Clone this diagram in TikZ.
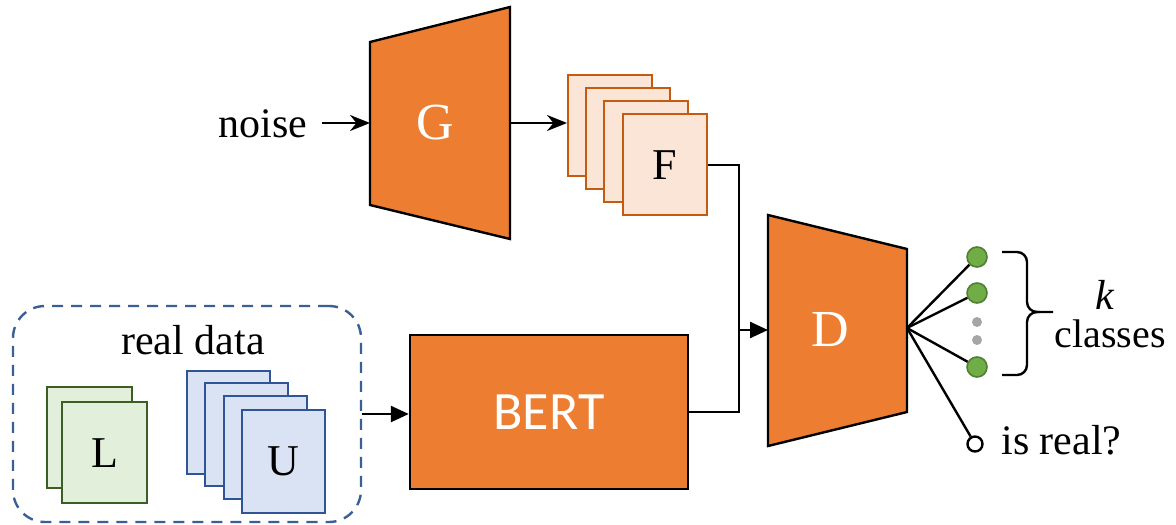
\documentclass[tikz,border=0pt]{standalone}
\usepackage{fontspec}
\setmainfont{Liberation Serif}
\newfontfamily\bertfont{Carlito}
\usetikzlibrary{arrows.meta}
\definecolor{orng}{HTML}{ED7D31}
\definecolor{orngdark}{HTML}{C55A11}
\definecolor{orngl}{HTML}{FBE5D6}
\definecolor{grnl}{HTML}{E2EFDA}
\definecolor{grnd}{HTML}{3B5E25}
\definecolor{bluel}{HTML}{DAE3F3}
\definecolor{blued}{HTML}{2F5597}
\definecolor{dashblue}{HTML}{3A5F95}
\definecolor{grnc}{HTML}{70AD47}
\definecolor{grncd}{HTML}{507E32}
\definecolor{dotgray}{HTML}{A6A6A6}
\tikzset{
  lbl/.style={font=\fontsize{21}{25}\selectfont, inner sep=0pt},
  trap/.style={draw=black, line width=1.2pt, fill=orng, line join=miter},
  trapname/.style={text=white, font=\fontsize{26}{30}\selectfont, inner sep=0pt},
  fbox/.style={draw=orngdark, fill=orngl, line width=1.2pt, minimum width=42pt, minimum height=50.5pt, inner sep=0pt, anchor=north west, font=\fontsize{22}{26}\selectfont},
  lbox/.style={draw=grnd, fill=grnl, line width=1.2pt, minimum width=42.5pt, minimum height=50.5pt, inner sep=0pt, anchor=north west, font=\fontsize{22}{26}\selectfont},
  ubox/.style={draw=blued, fill=bluel, line width=1.2pt, minimum width=41.5pt, minimum height=51.5pt, inner sep=0pt, anchor=north west, font=\fontsize{22}{26}\selectfont},
  conn/.style={draw=black, line width=1.2pt},
  arr/.style={conn, -{Stealth[length=10pt, width=8pt]}},
  tarr/.style={conn, -{Triangle[length=9pt, width=8pt]}},
  gdot/.style={circle, draw=grncd, fill=grnc, line width=0.8pt, minimum size=10pt, inner sep=0pt},
  graydot/.style={circle, fill=dotgray, minimum size=5pt, inner sep=0pt},
  odot/.style={circle, draw=black, fill=white, line width=1.2pt, minimum size=7.5pt, inner sep=0pt},
}
\begin{document}
\begin{tikzpicture}[x=0.5pt,y=-0.5pt]
\useasboundingbox (0,0) rectangle (1176,524);
% G trapezoid
\draw[trap] (370,42) -- (510,7) -- (510,239) -- (370,205) -- cycle;
\node[trapname] (G) at (435,123) {G};
\coordinate (Gin) at (370,123);
\coordinate (Gout) at (510,123);
\node[lbl, anchor=east] (noise) at (308,124) {noise};
\coordinate (nstart) at (322,123);
\draw[arr] (nstart) -- (Gin);
% F stack
\node[fbox] (F1) at (567,74) {};
\node[fbox] (F2) at (585,87) {};
\node[fbox] (F3) at (603,100) {};
\node[fbox] (F4) at (622,113) {F};
\draw[arr] (Gout) -- (Gout -| F1.west);
% D trapezoid
\draw[trap] (768,215) -- (907,249) -- (907,412) -- (768,446) -- cycle;
\node[trapname] (D) at (830,330) {D};
\coordinate (Din) at (768,330);
\coordinate (jn) at (739,330);
\coordinate (fan) at (907,328);
% real data
\node[draw=dashblue, dashed, dash pattern=on 5.5pt off 4pt, line width=1.2pt, rounded corners=16pt, minimum width=174pt, minimum height=108pt] (real) at (187,414) {};
\node[lbl] (rdl) at (193,340) {real data};
\node[lbox] (L1) at (46,386) {};
\node[lbox] (L2) at (61,401) {L};
\node[ubox] (U1) at (186,370) {};
\node[ubox] (U2) at (204,382) {};
\node[ubox] (U3) at (223,395) {};
\node[ubox] (U4) at (241,409) {U};
% BERT
\node[draw=black, fill=orng, line width=1.2pt, minimum width=139pt, minimum height=77pt, inner sep=0pt, text=white, font=\bertfont\fontsize{27}{32}\selectfont] (BERT) at (549,412) {BERT};
\draw[tarr] (real.east) -- (real.east -| BERT.west);
% connectors into D
\draw[conn] (F4.east) -| (jn);
\draw[conn] (BERT.east) -| (jn);
\draw[tarr] (jn) -- (Din);
% outputs
\node[gdot] (c1) at (977,257) {};
\node[gdot] (c2) at (977,293) {};
\node[graydot] (g1) at (977,322) {};
\node[graydot] (g2) at (977,340) {};
\node[gdot] (c3) at (977,367) {};
\node[odot] (ir) at (975,444) {};
\draw[conn] (fan) -- (c1);
\draw[conn] (fan) -- (c2);
\draw[conn] (fan) -- (c3);
\draw[conn] (fan) -- (ir);
\node[lbl, anchor=west] (isreal) at (1001,440) {is real?};
% brace
\draw[conn, rounded corners=5pt] (1002,252) -- (1027,252) -- (1027,312) -- (1053,312);
\draw[conn, rounded corners=5pt] (1002,375) -- (1027,375) -- (1027,312) -- (1040,312);
\node[lbl, font=\fontsize{21}{25}\selectfont\itshape] (k) at (1105,295) {k};
\node[lbl, font=\fontsize{20}{24}\selectfont] (classes) at (1110,334) {classes};
\end{tikzpicture}
\end{document}
